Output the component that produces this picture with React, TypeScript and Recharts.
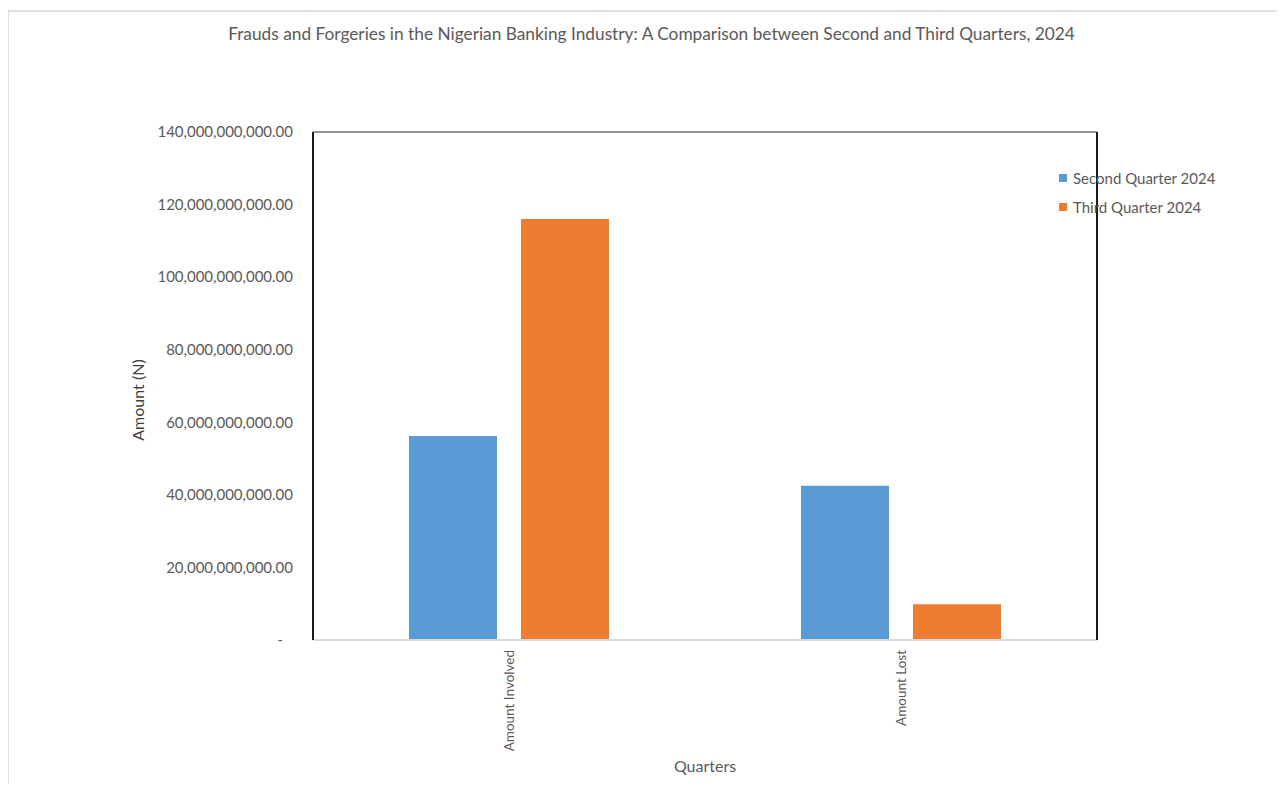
import React from 'react';
import { BarChart, Bar, XAxis, YAxis, Legend, Label } from 'recharts';

// Fraud figures (naira) by measure, Q2 vs Q3 2024
const categories = ['Amount Involved', 'Amount Lost'];
const secondQuarter = [56.2e9, 42.5e9];
const thirdQuarter = [116.0e9, 9.85e9];
const yTicks = [0, 20e9, 40e9, 60e9, 80e9, 100e9, 120e9, 140e9];

const series = [
  { key: 'q2', name: 'Second Quarter 2024', color: '#5B9BD5' },
  { key: 'q3', name: 'Third Quarter 2024', color: '#ED7D31' },
];

const data = categories.map((category, i) => ({
  category,
  q2: secondQuarter[i],
  q3: thirdQuarter[i],
}));

const FONT = 'Lato, "Noto Sans", sans-serif';
const TEXT = '#595959';

const formatAmount = (v: number) =>
  v === 0
    ? '-'
    : v.toLocaleString('en-US', { minimumFractionDigits: 2, maximumFractionDigits: 2 });

const YTick = ({ x, y, payload }: any) => (
  <text
    x={payload.value === 0 ? x - 10 : x}
    y={y}
    dy="0.35em"
    textAnchor="end"
    fill={TEXT}
    fontSize={15}
    fontFamily={FONT}
  >
    {formatAmount(payload.value)}
  </text>
);

const XTick = ({ x, y, payload }: any) => (
  <text
    x={x}
    y={y}
    dy="0.35em"
    textAnchor="end"
    transform={`rotate(-90, ${x}, ${y})`}
    fill={TEXT}
    fontSize={13.5}
    fontFamily={FONT}
  >
    {payload.value}
  </text>
);

const LegendBox = () => (
  <div style={{ fontFamily: FONT, fontSize: 15, color: TEXT }}>
    {series.map((s) => (
      <div key={s.key} style={{ display: 'flex', alignItems: 'center', height: 29 }}>
        <span style={{ width: 8, height: 8, background: s.color, marginRight: 6 }} />
        <span>{s.name}</span>
      </div>
    ))}
  </div>
);

export default function App() {
  return (
    <div style={{ position: 'relative', width: 1285, height: 792, margin: -8, background: '#fff', overflow: 'hidden' }}>
      <div
        style={{
          position: 'absolute',
          left: 7,
          top: 10,
          right: -10,
          bottom: -10,
          borderTop: '2px solid #e0e0e0',
          borderLeft: '2px solid #e0e0e0',
        }}
      />
      <div
        style={{
          position: 'absolute',
          top: 23,
          left: 9,
          width: 1285,
          textAlign: 'center',
          fontFamily: FONT,
          fontSize: 17.3,
          color: TEXT,
          zIndex: 2,
        }}
      >
        Frauds and Forgeries in the Nigerian Banking Industry: A Comparison between Second and Third Quarters, 2024
      </div>
      <BarChart
        width={1285}
        height={792}
        data={data}
        margin={{ top: 131, right: 187, left: 0, bottom: 0 }}
        barCategoryGap={96}
        barGap={24}
      >
        <XAxis
          dataKey="category"
          height={152}
          tick={<XTick />}
          tickLine={false}
          tickSize={0}
          tickMargin={10}
          axisLine={{ stroke: '#d9d9d9', strokeWidth: 2 }}
          interval={0}
        >
          <Label
            value="Quarters"
            position="insideBottom"
            offset={20}
            fill={TEXT}
            fontSize={16}
            fontFamily={FONT}
          />
        </XAxis>
        {/* top edge of the plot frame */}
        <XAxis
          xAxisId="top"
          dataKey="category"
          orientation="top"
          height={1}
          tick={false}
          tickLine={false}
          axisLine={{ stroke: '#6f6f6f', strokeWidth: 1.5 }}
        />
        <YAxis
          width={313}
          domain={[0, 140e9]}
          ticks={yTicks}
          tick={<YTick />}
          tickLine={false}
          tickSize={0}
          tickMargin={20}
          axisLine={{ stroke: '#1a1a1a', strokeWidth: 2 }}
        >
          <Label
            value="Amount (N)"
            angle={-90}
            position="center"
            dx={-18}
            dy={14}
            fill="#404040"
            fontSize={16}
            fontFamily={FONT}
          />
        </YAxis>
        {/* right edge of the plot frame */}
        <YAxis
          yAxisId="right"
          orientation="right"
          width={1}
          domain={[0, 1]}
          tick={false}
          tickLine={false}
          axisLine={{ stroke: '#1a1a1a', strokeWidth: 2 }}
        />
        {series.map((s) => (
          <Bar key={s.key} dataKey={s.key} name={s.name} fill={s.color} isAnimationActive={false} />
        ))}
        <Legend
          layout="vertical"
          align="center"
          verticalAlign="middle"
          content={<LegendBox />}
          wrapperStyle={{ left: 1059, top: 163, width: 220 }}
        />
      </BarChart>
    </div>
  );
}
